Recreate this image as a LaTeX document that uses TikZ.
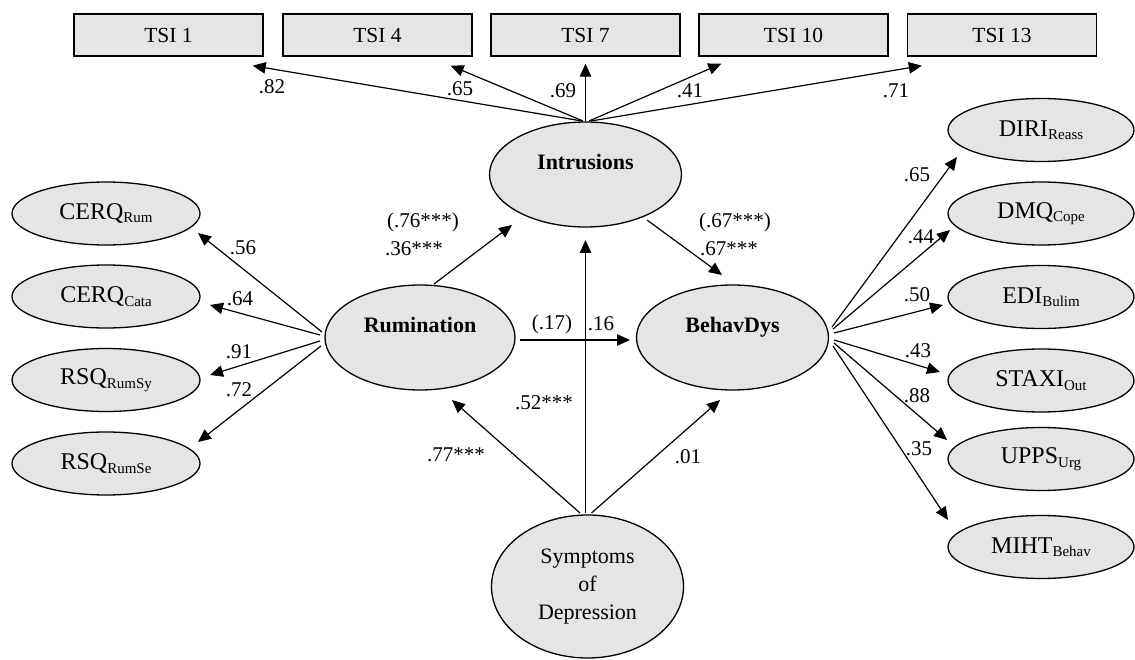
\documentclass[tikz,border=0pt]{standalone}
\usepackage{fontspec}
\setmainfont{Liberation Serif}
\usetikzlibrary{shapes.geometric,arrows.meta,calc}
\newcommand{\ind}[2]{{\fontsize{24}{28}\selectfont #1\raisebox{-3.5pt}{\fontsize{15}{18}\selectfont #2}}}
\begin{document}
\begin{tikzpicture}[x=1pt,y=-1pt,
  tsibox/.style={draw, line width=1.4pt, fill=black!10, minimum width=189pt, minimum height=42pt, inner sep=0pt, font=\fontsize{21.5}{26}\selectfont},
  lat/.style={ellipse, draw, line width=1.3pt, fill=black!10, inner sep=0pt, minimum width=192pt, minimum height=105pt},
  latlab/.style={font=\fontsize{22}{26}\selectfont\bfseries, text height=15.5pt, text depth=0pt, inner sep=0pt, yshift=12.5pt},
  indic/.style={ellipse, draw, line width=1.3pt, fill=black!10, inner sep=0pt, minimum width=188pt, minimum height=63pt},
  pth/.style={-{Triangle[length=13pt,width=11.5pt]}, line width=1.2pt},
  lab/.style={font=\fontsize{21}{25}\selectfont, inner sep=0pt}
]
\useasboundingbox (0,0) rectangle (1135,660);

% TSI boxes
\node[tsibox] (tsi1) at (168.5,35) {TSI 1};
\node[tsibox] (tsi4) at (377.5,35) {TSI 4};
\node[tsibox] (tsi7) at (585.5,35) {TSI 7};
\node[tsibox] (tsi10) at (793.5,35) {TSI 10};
\node[tsibox] (tsi13) at (1002,35) {TSI 13};

% latent variables
\node[lat, label={[latlab]center:Intrusions}] (intr) at (585.5,174.5) {};
\node[lat, minimum width=190pt, label={[latlab]center:Rumination}] (rum) at (420,337.5) {};
\node[lat, label={[latlab]center:BehavDys}] (beh) at (732.5,337.5) {};
\node[lat, minimum height=143pt, align=center, font=\fontsize{22}{28}\selectfont] (sym) at (587.5,586.5) {Symptoms\\of\\Depression\rule{0pt}{0pt}};

% left indicators
\node[indic] (cerqrum) at (106,213.5) {\ind{CERQ}{Rum}};
\node[indic] (cerqcata) at (106,296.5) {\ind{CERQ}{Cata}};
\node[indic] (rsqsy) at (106,380) {\ind{RSQ}{RumSy}};
\node[indic] (rsqse) at (106,463.5) {\ind{RSQ}{RumSe}};

% right indicators
\node[indic, minimum width=186pt] (diri) at (1041,130) {\ind{DIRI}{Reass}};
\node[indic, minimum width=186pt] (dmq) at (1041,213.5) {\ind{DMQ}{Cope}};
\node[indic, minimum width=186pt] (edi) at (1041,297) {\ind{EDI}{Bulim}};
\node[indic, minimum width=186pt] (staxi) at (1041,380.5) {\ind{STAXI}{Out}};
\node[indic, minimum width=186pt] (upps) at (1041,459) {\ind{UPPS}{Urg}};
\node[indic, minimum width=186pt] (miht) at (1041,547) {\ind{MIHT}{Behav}};

% Intrusions -> TSI
\draw[pth] ($(intr.center)+(-3.5,-53.5)$) -- ($(tsi1.south east)+(-11,9)$);
\draw[pth] ($(intr.center)+(-2.5,-53.5)$) -- ($(tsi4.south east)+(-22,9)$);
\draw[pth] ($(intr.center)+(0,-53.5)$) -- ($(tsi7.south)+(0,7)$);
\draw[pth] ($(intr.center)+(3.5,-53.5)$) -- ($(tsi10.south west)+(23,7)$);
\draw[pth] ($(intr.center)+(5.5,-53.5)$) -- ($(tsi13.south west)+(15,9)$);

\node[lab] (l82) at (272,87) {.82};
\node[lab] (l65a) at (460,89) {.65};
\node[lab] (l69) at (563,91) {.69};
\node[lab] (l41) at (690,91) {.41};
\node[lab] (l71) at (896,91) {.71};

% structural paths
\draw[pth] ($(rum.center)+(14,-53.5)$) -- ($(intr.center)+(-73.5,50.5)$);
\draw[pth] ($(intr.center)+(61.5,45.5)$) -- ($(beh.center)+(-10.5,-62.5)$);
\draw[pth] ($(rum.center)+(100,2.5)$) -- ($(beh.center)+(-102.5,2.5)$);
\draw[pth] ($(sym.center)+(-7.5,-73.5)$) -- ($(rum.center)+(32,62.5)$);
\draw[pth] ($(sym.center)+(-2,-73.5)$) -- ($(intr.center)+(0,65.5)$);
\draw[pth] ($(sym.center)+(4,-73.5)$) -- ($(beh.center)+(-12.5,62.5)$);

\node[lab] (l76) at (423,222) {(.76***)};
\node[lab] (l36) at (414,249) {.36***};
\node[lab] (l67a) at (735,222) {(.67***)};
\node[lab] (l67b) at (729,249) {.67***};
\node[lab] (l17) at (552,324) {(.17)};
\node[lab] (l16) at (601,324) {.16};
\node[lab] (l52) at (544,403) {.52***};
\node[lab] (l77) at (456,455) {.77***};
\node[lab] (l01) at (688,457) {.01};

% Rumination -> left indicators
\draw[pth] ($(rum.center)+(-98,-5.5)$) -- ($(cerqrum.center)+(92,19.5)$);
\draw[pth] ($(rum.center)+(-100,-2.5)$) -- ($(cerqcata.center)+(104,8.5)$);
\draw[pth] ($(rum.center)+(-100,3.5)$) -- ($(rsqsy.center)+(104,-5)$);
\draw[pth] ($(rum.center)+(-99,8.5)$) -- ($(rsqse.center)+(92,-21.5)$);

\node[lab] (l56) at (243,248) {.56};
\node[lab] (l64) at (240,299) {.64};
\node[lab] (l91) at (239,352) {.91};
\node[lab] (l72) at (239,390) {.72};

% BehavDys -> right indicators
\draw[pth] ($(beh.center)+(99.5,-10.5)$) -- ($(diri.center)+(-84,27)$);
\draw[pth] ($(beh.center)+(100.5,-8.5)$) -- ($(dmq.center)+(-91,16.5)$);
\draw[pth] ($(beh.center)+(101.5,-4.5)$) -- ($(edi.center)+(-98,8)$);
\draw[pth] ($(beh.center)+(101.5,2.5)$) -- ($(staxi.center)+(-101,-8.5)$);
\draw[pth] ($(beh.center)+(101.5,5.5)$) -- ($(upps.center)+(-94,-19)$);
\draw[pth] ($(beh.center)+(100.5,8.5)$) -- ($(miht.center)+(-93,-27)$);

\node[lab] (l65b) at (917,175) {.65};
\node[lab] (l44) at (921,237) {.44};
\node[lab] (l50) at (917,295) {.50};
\node[lab] (l43) at (918,351) {.43};
\node[lab] (l88) at (917,396) {.88};
\node[lab] (l35) at (919,449) {.35};
\end{tikzpicture}
\end{document}
